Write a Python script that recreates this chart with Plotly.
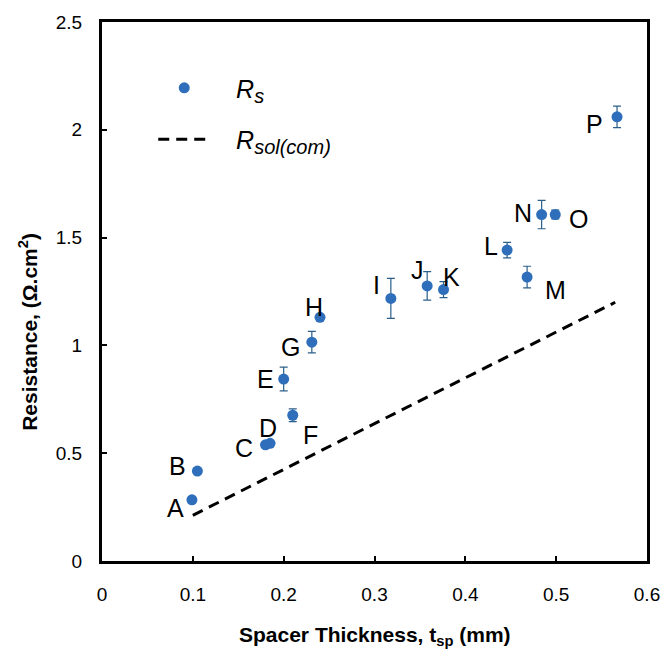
import plotly.graph_objects as go

labels = ["A", "B", "C", "D", "E", "F", "G", "H", "I", "J", "K", "L", "M", "N", "O", "P"]
thickness = [0.099, 0.105, 0.180, 0.185, 0.200, 0.210, 0.231, 0.240, 0.318, 0.358,
             0.376, 0.446, 0.468, 0.484, 0.499, 0.567]
resistance = [0.284, 0.417, 0.539, 0.546, 0.844, 0.676, 1.015, 1.130, 1.218, 1.276,
              1.259, 1.442, 1.317, 1.607, 1.607, 2.060]
resistance_err = [0.01, 0.01, 0.01, 0.01, 0.055, 0.03, 0.05, 0.01, 0.093, 0.066,
                  0.037, 0.036, 0.05, 0.066, 0.02, 0.05]

sol_thickness = [0.100, 0.565]
sol_resistance = [0.212, 1.200]

# label offsets in screen pixels (dx right, dy up)
label_offsets = {
    "A": (-16, -8), "B": (-20, 5), "C": (-22, -3), "D": (-2, 15),
    "E": (-18, 0), "F": (18, -20), "G": (-21, -5), "H": (-6, 10),
    "I": (-14, 13), "J": (-10, 16), "K": (8, 13), "L": (-16, 4),
    "M": (28, -13), "N": (-19, 2), "O": (23, -4), "P": (-23, -7),
}

FONT = "Liberation Sans, Arial, sans-serif"
SUB = "<sub><span style='font-size:20px'>{}</span></sub>"

fig = go.Figure()
fig.add_trace(go.Scatter(
    x=thickness, y=resistance, mode="markers",
    name="&nbsp;&nbsp;&nbsp;<i>R" + SUB.format("s") + "</i>", legendgroup="a",
    marker=dict(size=11, color="#2F6EBA"),
    error_y=dict(type="data", array=resistance_err, visible=True,
                 color="#2B5F8A", thickness=1.2, width=4),
))
fig.add_trace(go.Scatter(
    x=sol_thickness, y=sol_resistance, mode="lines",
    name="&nbsp;&nbsp;&nbsp;<i>R" + SUB.format("sol(com)") + "</i>", legendgroup="b",
    line=dict(color="black", width=3, dash="11px,7px"),
))

for lab, xv, yv in zip(labels, thickness, resistance):
    dx, dy = label_offsets[lab]
    fig.add_annotation(x=xv, y=yv, text=lab, showarrow=False,
                       xshift=dx, yshift=dy,
                       font=dict(family=FONT, size=25, color="black"))

fig.add_annotation(xref="paper", yref="paper", x=-0.136, y=0.425,
                   xanchor="center", yanchor="middle",
                   text="<b>Resistance, (Ω.cm<sup>2</sup>)</b>", textangle=-90,
                   showarrow=False, font=dict(family=FONT, size=21, color="black"))
fig.add_annotation(xref="paper", yref="paper", x=0.5, y=-0.139,
                   xanchor="center", yanchor="middle",
                   text="<b>Spacer Thickness, t<sub>sp</sub> (mm)</b>",
                   showarrow=False, font=dict(family=FONT, size=21, color="black"))

axis_common = dict(
    showline=True, linecolor="black", linewidth=3, mirror=True,
    ticks="inside", ticklen=5, tickwidth=2, tickcolor="black",
    showgrid=False, zeroline=False,
    tickfont=dict(family=FONT, size=19, color="black"),
)

fig.update_layout(
    width=672, height=650,
    margin=dict(l=102, r=20, t=15, b=89),
    paper_bgcolor="white", plot_bgcolor="white",
    showlegend=True,
    legend=dict(x=0.094, y=0.92, xanchor="left", yanchor="top",
                bgcolor="rgba(0,0,0,0)", traceorder="grouped",
                tracegroupgap=16, itemwidth=52,
                font=dict(family=FONT, size=25, color="black")),
    xaxis=dict(range=[0, 0.6], tickvals=[0, 0.1, 0.2, 0.3, 0.4, 0.5, 0.6],
               ticktext=["0", "0.1", "0.2", "0.3", "0.4", "0.5", "0.6"],
               ticklabelstandoff=14, **axis_common),
    yaxis=dict(range=[0, 2.5], tickvals=[0, 0.5, 1, 1.5, 2, 2.5],
               ticktext=["0", "0.5", "1", "1.5", "2", "2.5"],
               ticklabelstandoff=13, **axis_common),
)

fig.write_html("out.html")
